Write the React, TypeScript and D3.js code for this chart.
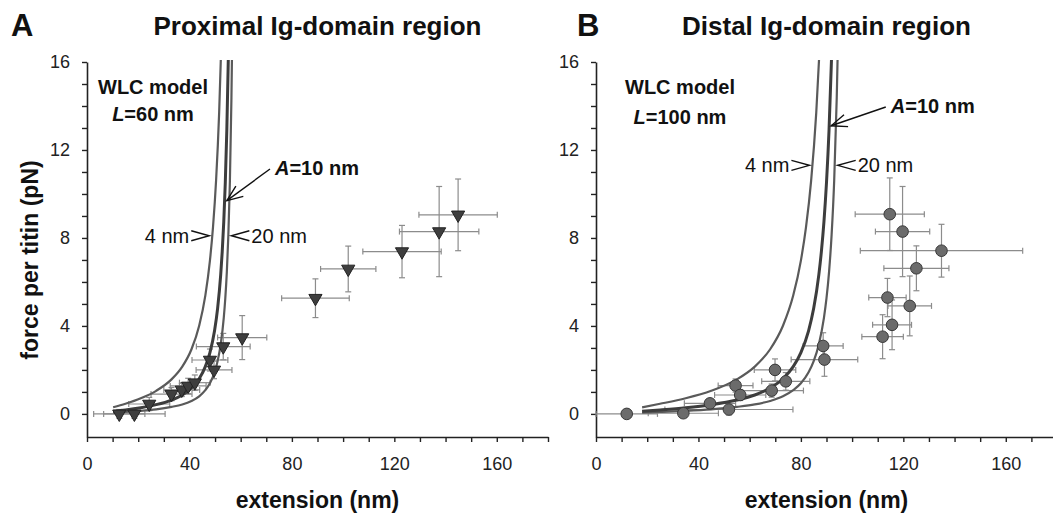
import React, { useEffect, useRef } from "react";
import * as d3 from "d3";

const W = 1053;
const H = 516;

// Panel A, proximal Ig-domain region (triangles)
const proxExt = [12.6, 18.5, 24.3, 33.0, 37.0, 39.5, 42.1, 48.0, 49.6, 53.2, 60.6, 89.2, 102.0, 123.0, 137.5, 144.9];
const proxExtErr = [10, 12, 8, 8, 7, 7, 6, 7, 7, 10.5, 9.6, 13.2, 10.8, 15.3, 15.5, 15.3];
const proxForce = [0, 0, 0.45, 0.9, 1.09, 1.27, 1.42, 2.45, 2.0, 3.06, 3.47, 5.26, 6.59, 7.38, 8.29, 9.05];
const proxForceErr = [0.2, 0.2, 0.3, 0.3, 0.3, 0.35, 0.35, 0.5, 0.4, 0.6, 1.0, 0.88, 1.04, 1.19, 2.05, 1.63];

// Panel B, distal Ig-domain region (circles)
const distExt = [12.0, 34.1, 44.5, 51.9, 54.5, 56.3, 68.6, 69.9, 74.1, 88.7, 89.2, 111.9, 115.6, 113.8, 122.5, 125.1, 134.9, 119.7, 114.7];
const distExtErr = [12, 13.7, 10, 25, 6.8, 10, 12.4, 8.1, 9.4, 7.8, 13, 8.1, 7.6, 7.3, 8.5, 12.7, 31.7, 10.6, 13.5];
const distForce = [0, 0.03, 0.48, 0.2, 1.29, 0.86, 1.06, 2.0, 1.48, 3.09, 2.47, 3.51, 4.05, 5.29, 4.91, 6.62, 7.42, 8.29, 9.08];
const distForceErr = [0.1, 0.15, 0.2, 0.25, 0.3, 0.25, 0.3, 0.5, 0.4, 0.6, 0.76, 1.0, 1.13, 0.87, 1.36, 1.02, 1.2, 2.05, 1.65];

// WLC model curves: extension (nm) and force (pN)
const proxWlc4Ext = [10.2, 15, 21, 27, 33, 37.2, 40.8, 43.8, 46.2, 48, 49.2, 50.4, 51.6, 52.5];
const distWlc4Ext = [18, 25, 35, 45, 55, 62, 68, 73, 77, 80, 82, 84, 86, 87.5];
const wlc4Force = [0.3, 0.46, 0.71, 1.05, 1.57, 2.15, 2.94, 4.01, 5.38, 6.97, 8.49, 10.61, 13.7, 17.04];

const proxWlc10Ext = [10.2, 15, 21, 27, 33, 37.2, 40.8, 43.8, 46.2, 48, 49.8, 51, 52.2, 52.8, 53.4, 54, 54.6, 55.2];
const distWlc10Ext = [18, 25, 35, 45, 55, 62, 68, 73, 77, 80, 83, 85, 87, 88, 89, 90, 91, 92];
const wlc10Force = [0.12, 0.18, 0.28, 0.42, 0.63, 0.86, 1.18, 1.6, 2.15, 2.79, 3.78, 4.8, 6.32, 7.38, 8.73, 10.52, 12.93, 16.29];

const proxWlc20Ext = [10.2, 15, 21, 27, 33, 37.2, 40.8, 43.8, 46.2, 48, 49.8, 51, 52.2, 53.4, 54, 54.6, 55.2, 55.8, 56.4, 56.7];
const distWlc20Ext = [18, 25, 35, 45, 55, 62, 68, 73, 77, 80, 83, 85, 87, 89, 90, 91, 92, 93, 94, 94.5];
const wlc20Force = [0.06, 0.09, 0.14, 0.21, 0.32, 0.43, 0.59, 0.8, 1.08, 1.39, 1.89, 2.4, 3.16, 4.37, 5.26, 6.46, 8.15, 10.6, 14.38, 17.08];

const xTicks = [0, 40, 80, 120, 160];
const yTicks = [0, 4, 8, 12, 16];

const zip = (xs: number[], ys: number[]) => xs.map((v, i) => [v, ys[i]] as [number, number]);

const App = () => {
  const svgRef = useRef<SVGSVGElement>(null);

  useEffect(() => {
    const font = "'Liberation Sans', Arial, Helvetica, sans-serif";
    const svg = d3.select(svgRef.current);
    svg.selectAll("*").remove();
    svg
      .attr("width", W)
      .attr("height", H)
      .attr("viewBox", [0, 0, W, H])
      .style("background", "white")
      .style("font-family", font);

    const axisBottom = 437;
    const axisTop = 62;
    const y = d3.scaleLinear().domain([-1.05, 16]).range([axisBottom, axisTop]);

    const panels = [
      {
        id: "A",
        left: 87,
        title: "Proximal Ig-domain region",
        ext: proxExt, extErr: proxExtErr, force: proxForce, forceErr: proxForceErr,
        marker: "tri",
        curves: [zip(proxWlc4Ext, wlc4Force), zip(proxWlc20Ext, wlc20Force), zip(proxWlc10Ext, wlc10Force)],
        modelX: 153, modelY: [94, 121], L: "60",
        labelF: 8.1, x4: 48.9, x20: 55.2,
        arrowTip: [54.6, 9.7], arrowText: [73.4, 10.86],
      },
      {
        id: "B",
        left: 596,
        title: "Distal Ig-domain region",
        ext: distExt, extErr: distExtErr, force: distForce, forceErr: distForceErr,
        marker: "circle",
        curves: [zip(distWlc4Ext, wlc4Force), zip(distWlc20Ext, wlc20Force), zip(distWlc10Ext, wlc10Force)],
        modelX: 680, modelY: [94, 124], L: "100",
        labelF: 11.3, x4: 84.5, x20: 93.2,
        arrowTip: [91.8, 13.1], arrowText: [115.1, 13.68],
      },
    ];

    // clip so the model curves stop at the top of the axis
    svg
      .append("defs")
      .append("clipPath")
      .attr("id", "plotclip")
      .append("rect")
      .attr("x", 0)
      .attr("y", axisTop - 2)
      .attr("width", W)
      .attr("height", axisBottom - axisTop + 2);

    panels.forEach((p) => {
      const x = d3.scaleLinear().domain([0, 180]).range([p.left, p.left + 461]);
      const g = svg.append("g");

      // panel letter and title
      g.append("text")
        .attr("x", p.id === "A" ? 11 : 577)
        .attr("y", 36)
        .attr("font-size", 31)
        .attr("font-weight", "bold")
        .attr("fill", "#111")
        .text(p.id);
      g.append("text")
        .attr("x", (x(0) + x(180)) / 2)
        .attr("y", 35)
        .attr("text-anchor", "middle")
        .attr("font-size", 26)
        .attr("font-weight", "bold")
        .attr("fill", "#111")
        .text(p.title);

      // x axis
      g.append("g")
        .attr("transform", `translate(0,${axisBottom})`)
        .call(
          d3
            .axisBottom(x)
            .tickValues(d3.range(0, 181, 10))
            .tickFormat((d) => (xTicks.includes(+d) ? String(d) : ""))
            .tickSize(5)
            .tickPadding(15)
            .tickSizeOuter(0),
        )
        .call((a) => a.select(".domain").attr("stroke", "#222").attr("stroke-width", 1.6))
        .call((a) => a.selectAll(".tick line").attr("stroke", "#222").attr("stroke-width", 1.4))
        .call((a) =>
          a.selectAll(".tick text").attr("font-size", 18).attr("font-family", font).attr("fill", "#222"),
        );

      // y axis
      g.append("g")
        .attr("transform", `translate(${p.left},0)`)
        .call(
          d3
            .axisLeft(y)
            .tickValues(d3.range(0, 17, 1))
            .tickFormat((d) => (yTicks.includes(+d) ? String(d) : ""))
            .tickSize(5)
            .tickPadding(12)
            .tickSizeOuter(0),
        )
        .call((a) => a.select(".domain").attr("stroke", "#222").attr("stroke-width", 1.6))
        .call((a) => a.selectAll(".tick line").attr("stroke", "#222").attr("stroke-width", 1.4))
        .call((a) =>
          a.selectAll(".tick text").attr("font-size", 18).attr("font-family", font).attr("fill", "#222"),
        );

      // axis titles
      g.append("text")
        .attr("x", (x(0) + x(180)) / 2)
        .attr("y", 508)
        .attr("text-anchor", "middle")
        .attr("font-size", 23)
        .attr("font-weight", "bold")
        .attr("fill", "#111")
        .text("extension (nm)");
      if (p.id === "A") {
        g.append("text")
          .attr("transform", `translate(38,260) rotate(-90)`)
          .attr("text-anchor", "middle")
          .attr("font-size", 23)
          .attr("font-weight", "bold")
          .attr("fill", "#111")
          .text("force per titin (pN)");
      }

      // error bars
      const eb = g.append("g").attr("stroke", "#8c8c8c").attr("stroke-width", 1.2);
      p.ext.forEach((e, i) => {
        const cx = x(e);
        const cy = y(p.force[i]);
        const x0 = x(e - p.extErr[i]);
        const x1 = x(e + p.extErr[i]);
        const y0 = y(p.force[i] - p.forceErr[i]);
        const y1 = y(p.force[i] + p.forceErr[i]);
        eb.append("line").attr("x1", x0).attr("x2", x1).attr("y1", cy).attr("y2", cy);
        eb.append("line").attr("x1", x0).attr("x2", x0).attr("y1", cy - 3).attr("y2", cy + 3);
        eb.append("line").attr("x1", x1).attr("x2", x1).attr("y1", cy - 3).attr("y2", cy + 3);
        eb.append("line").attr("x1", cx).attr("x2", cx).attr("y1", y0).attr("y2", y1);
        eb.append("line").attr("x1", cx - 3).attr("x2", cx + 3).attr("y1", y0).attr("y2", y0);
        eb.append("line").attr("x1", cx - 3).attr("x2", cx + 3).attr("y1", y1).attr("y2", y1);
      });

      // WLC model curves
      const line = d3
        .line<[number, number]>()
        .x((d) => x(d[0]))
        .y((d) => y(d[1]))
        .curve(d3.curveMonotoneX);
      p.curves.forEach((c, i) => {
        g.append("path")
          .attr("clip-path", "url(#plotclip)")
          .attr("fill", "none")
          .attr("stroke", i === 2 ? "#3d3d3d" : "#5a5a5a")
          .attr("stroke-width", i === 2 ? 3 : 2.2)
          .attr("d", line(c));
      });

      // markers
      if (p.marker === "tri") {
        const sym = d3.symbol().type(d3.symbolTriangle).size(75);
        g.selectAll("path.pt")
          .data(p.ext)
          .join("path")
          .attr("class", "pt")
          .attr("d", sym())
          .attr("transform", (e, i) => `translate(${x(e)},${y(p.force[i])}) rotate(180)`)
          .attr("fill", "#3e3e3e")
          .attr("stroke", "#222")
          .attr("stroke-width", 1);
      } else {
        g.selectAll("circle.pt")
          .data(p.ext)
          .join("circle")
          .attr("class", "pt")
          .attr("cx", (e) => x(e))
          .attr("cy", (e, i) => y(p.force[i]))
          .attr("r", 5.8)
          .attr("fill", "#6b6b6b")
          .attr("stroke", "#383838")
          .attr("stroke-width", 1);
      }

      // model annotations
      const ann = g.append("g").attr("fill", "#111");
      ann.append("text")
        .attr("x", p.modelX)
        .attr("y", p.modelY[0])
        .attr("text-anchor", "middle")
        .attr("font-size", 20)
        .attr("font-weight", "bold")
        .text("WLC model");
      const lt = ann.append("text")
        .attr("x", p.modelX)
        .attr("y", p.modelY[1])
        .attr("text-anchor", "middle")
        .attr("font-size", 20)
        .attr("font-weight", "bold");
      lt.append("tspan").attr("font-style", "italic").text("L");
      lt.append("tspan").text(`=${p.L} nm`);

      // chevrons pointing at 4 nm and 20 nm curves
      const ly = y(p.labelF);
      const t4 = x(p.x4) - 3;
      const t20 = x(p.x20) + 3;
      const chev = g.append("g").attr("fill", "none").attr("stroke", "#111").attr("stroke-width", 1.4);
      chev.append("path").attr("d", `M${t4 - 18},${ly - 5}L${t4},${ly}L${t4 - 18},${ly + 5}`);
      chev.append("path").attr("d", `M${t20 + 18},${ly - 5}L${t20},${ly}L${t20 + 18},${ly + 5}`);
      ann.append("text")
        .attr("x", t4 - 20)
        .attr("y", ly + 7)
        .attr("text-anchor", "end")
        .attr("font-size", 20)
        .text("4 nm");
      ann.append("text")
        .attr("x", t20 + 20)
        .attr("y", ly + 7)
        .attr("font-size", 20)
        .text("20 nm");

      // arrow to A=10 nm curve
      const tx = x(p.arrowText[0]);
      const ty = y(p.arrowText[1]);
      const ax = x(p.arrowTip[0]);
      const ay = y(p.arrowTip[1]);
      const sx = tx - 5;
      const sy = ty - 6;
      const ang = Math.atan2(sy - ay, sx - ax);
      const barb = 17;
      const spread = 0.38;
      chev.append("line").attr("x1", sx).attr("y1", sy).attr("x2", ax).attr("y2", ay);
      chev.append("path").attr(
        "d",
        `M${ax + barb * Math.cos(ang - spread)},${ay + barb * Math.sin(ang - spread)}L${ax},${ay}L${ax + barb * Math.cos(ang + spread)},${ay + barb * Math.sin(ang + spread)}`,
      );
      const at = ann.append("text")
        .attr("x", tx)
        .attr("y", ty)
        .attr("font-size", 20)
        .attr("font-weight", "bold");
      at.append("tspan").attr("font-style", "italic").text("A");
      at.append("tspan").text("=10 nm");
    });
  }, []);

  return <svg ref={svgRef} style={{ position: "absolute", left: 0, top: 0 }} />;
};

export default App;
